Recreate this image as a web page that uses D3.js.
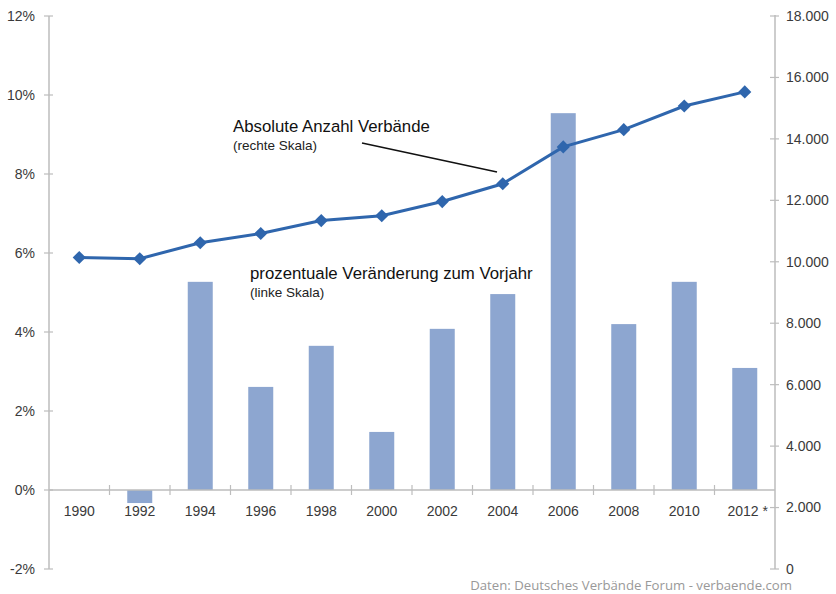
<!DOCTYPE html>
<html><head><meta charset="utf-8">
<script src="https://cdn.jsdelivr.net/npm/d3@7"></script>
<style>body{margin:0;background:#fff}svg{display:block}</style>
</head><body>
<svg id="c" width="836" height="594"></svg>
<script>
const years = ["1990","1992","1994","1996","1998","2000","2002","2004","2006","2008","2010","2012 *"];
const pctChange = [null,-0.33,5.27,2.61,3.65,1.47,4.08,4.96,9.54,4.2,5.27,3.09];
const absCount = [10140,10100,10620,10920,11340,11500,11960,12540,13740,14300,15070,15530];
const leftTicks = [-2,0,2,4,6,8,10,12];
const rightTicks = [0,2000,4000,6000,8000,10000,12000,14000,16000,18000];

const svg = d3.select("#c");
const L = 49, R = 775, T = 16, B = 569;
const font = "Liberation Sans, Arial, sans-serif";
const axisCol = "#bdbdbd", txtCol = "#3a3a3a";

const x = d3.scaleBand().domain(years).range([L, R]).paddingInner(0).paddingOuter(0);
const yL = d3.scaleLinear().domain([-2, 12]).range([B, T]);
const yR = d3.scaleLinear().domain([0, 18000]).range([B, T]);

// left axis
svg.append("line").attr("x1", L).attr("x2", L).attr("y1", T).attr("y2", B).attr("stroke", axisCol).attr("stroke-width", 1.5);
leftTicks.forEach(t => {
  svg.append("line").attr("x1", L - 5).attr("x2", L + 4).attr("y1", yL(t)).attr("y2", yL(t)).attr("stroke", axisCol).attr("stroke-width", 1.2);
  svg.append("text").attr("x", 35).attr("y", yL(t)).attr("dy", "0.35em").attr("text-anchor", "end")
    .attr("font-family", font).attr("font-size", 14).attr("fill", txtCol).text(t + "%");
});
// right axis
svg.append("line").attr("x1", R).attr("x2", R).attr("y1", T - 1).attr("y2", B).attr("stroke", axisCol).attr("stroke-width", 1.5);
rightTicks.forEach(t => {
  svg.append("line").attr("x1", R - 5).attr("x2", R + 4).attr("y1", yR(t)).attr("y2", yR(t)).attr("stroke", axisCol).attr("stroke-width", 1.2);
  const lab = t === 0 ? "0" : d3.format(",")(t).replace(/,/g, ".");
  svg.append("text").attr("x", 786).attr("y", yR(t)).attr("dy", "0.35em").attr("text-anchor", "start")
    .attr("font-family", font).attr("font-size", 14).attr("fill", txtCol).text(lab);
});

// bars
const bw = 25;
years.forEach((yr, i) => {
  const v = pctChange[i];
  if (v === null) return;
  const cx = x(yr) + x.bandwidth() / 2;
  svg.append("rect").attr("x", cx - bw / 2).attr("width", bw)
    .attr("y", Math.min(yL(v), yL(0))).attr("height", Math.abs(yL(v) - yL(0)))
    .attr("fill", "#8da6d0");
});

// x axis
svg.append("line").attr("x1", L).attr("x2", R).attr("y1", yL(0)).attr("y2", yL(0)).attr("stroke", axisCol).attr("stroke-width", 1.5);
years.slice(1).forEach(yr => {
  svg.append("line").attr("x1", x(yr)).attr("x2", x(yr)).attr("y1", yL(0) - 5).attr("y2", yL(0) + 5).attr("stroke", axisCol).attr("stroke-width", 1.2);
});
years.forEach(yr => {
  svg.append("text").attr("x", x(yr) + x.bandwidth() / 2 + (yr.includes("*") ? 3 : 0)).attr("y", 516).attr("text-anchor", "middle")
    .attr("font-family", font).attr("font-size", 14).attr("fill", txtCol).text(yr);
});

// line
const lineCol = "#2f66ad";
const pts = years.map((yr, i) => [x(yr) + x.bandwidth() / 2, yR(absCount[i])]);
svg.append("path").attr("d", d3.line()(pts)).attr("fill", "none").attr("stroke", lineCol).attr("stroke-width", 3);
svg.selectAll(".m").data(pts).enter().append("path")
  .attr("d", d3.symbol().type(d3.symbolDiamond2).size(110))
  .attr("transform", d => `translate(${d[0]},${d[1]})`).attr("fill", lineCol);

// annotations
svg.append("text").attr("x", 233).attr("y", 132).attr("font-family", font).attr("font-size", 16.8).attr("fill", "#111").text("Absolute Anzahl Verbände");
svg.append("text").attr("x", 233).attr("y", 150).attr("font-family", font).attr("font-size", 13.5).attr("fill", "#222").text("(rechte Skala)");
svg.append("line").attr("x1", 362).attr("y1", 143).attr("x2", 497).attr("y2", 172).attr("stroke", "#111").attr("stroke-width", 1.5);
svg.append("text").attr("x", 250).attr("y", 279).attr("font-family", font).attr("font-size", 16.8).attr("fill", "#111").text("prozentuale Veränderung zum Vorjahr");
svg.append("text").attr("x", 250).attr("y", 297).attr("font-family", font).attr("font-size", 13.5).attr("fill", "#222").text("(linke Skala)");

// source
svg.append("text").attr("x", 792).attr("y", 590).attr("text-anchor", "end").attr("font-family", "Open Sans, sans-serif").attr("font-size", 13.2).attr("fill", "#999").text("Daten: Deutsches Verbände Forum - verbaende.com");
</script>
</body></html>
